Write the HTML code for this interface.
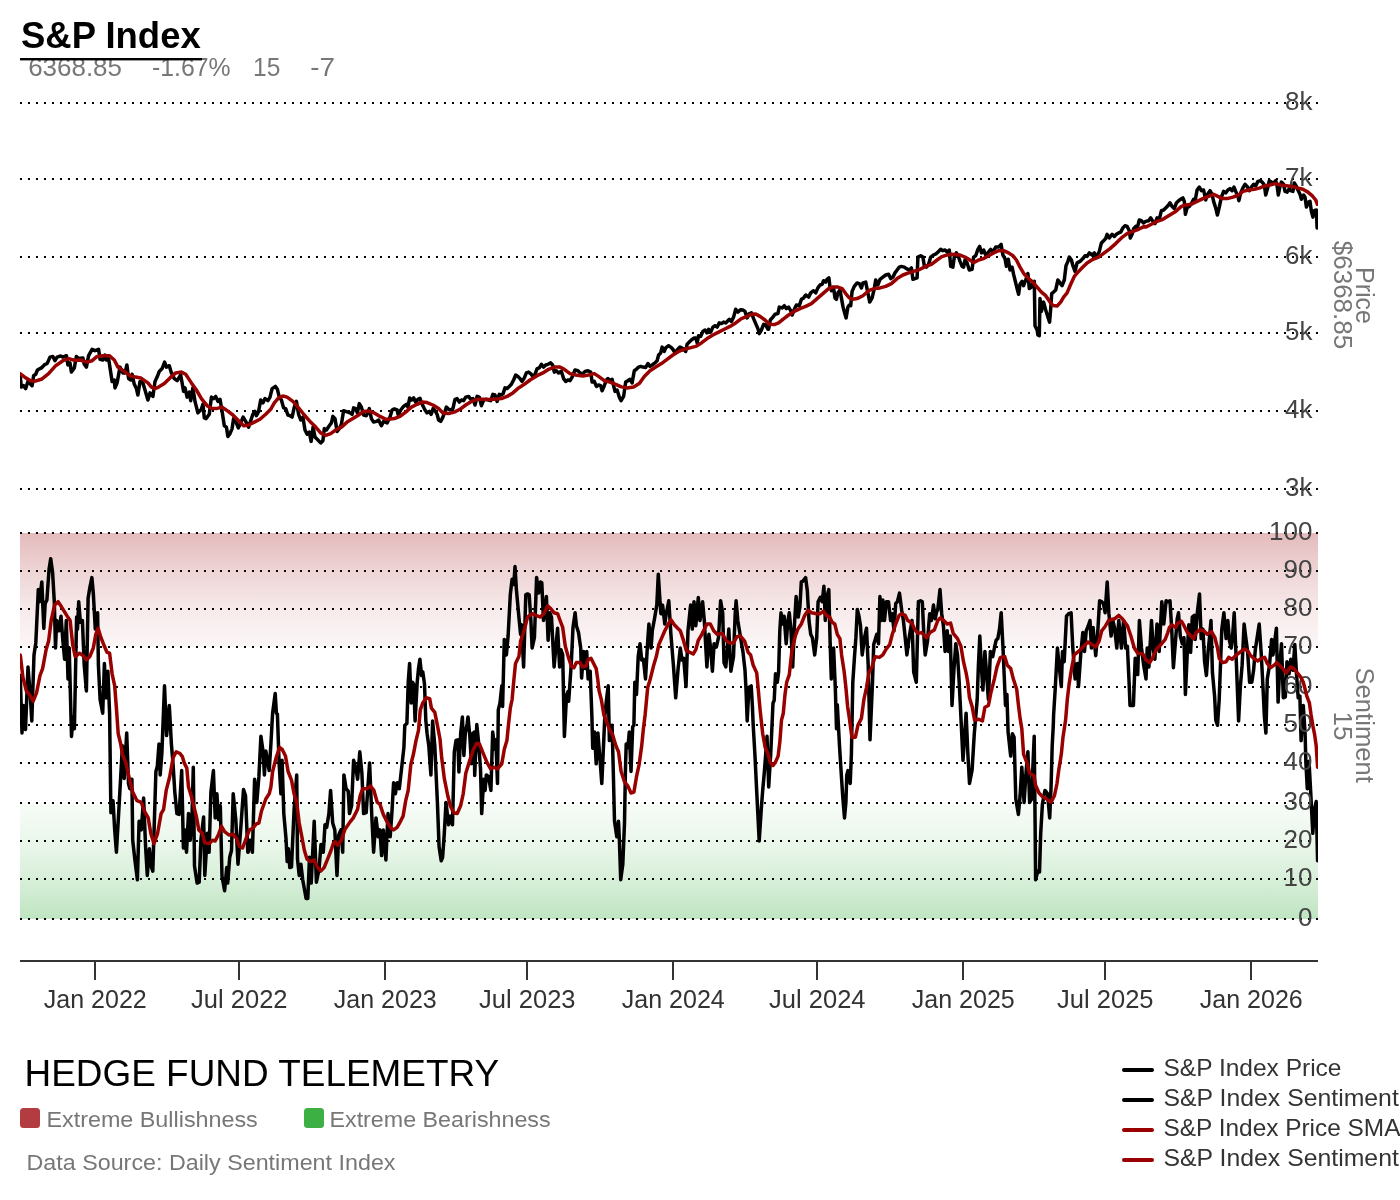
<!DOCTYPE html>
<html lang="en"><head><meta charset="utf-8"><title>S&amp;P Index</title>
<style>
html,body{margin:0;padding:0;background:#fff;}
body{width:1400px;height:1200px;overflow:hidden;font-family:"Liberation Sans", Arial, Helvetica, sans-serif;}
svg{display:block;will-change:transform;}
text{font-family:"Liberation Sans", Arial, Helvetica, sans-serif;}
.g{stroke:#000;stroke-width:2;stroke-dasharray:2 6;shape-rendering:crispEdges;fill:none;}
.tk{font-size:26px;fill:#444;text-anchor:end;}
.xl{font-size:26px;fill:#333;text-anchor:middle;}
.sub{font-size:26px;fill:#777;}
.rot{font-size:26px;fill:#777;text-anchor:middle;}
.ln{fill:none;stroke-width:3.5;stroke-linejoin:round;stroke-linecap:round;}
.lg{font-size:24px;fill:#333;}
.ft{font-size:22px;fill:#777;}
</style></head><body>
<svg width="1400" height="1200" viewBox="0 0 1400 1200">
<defs>
<linearGradient id="gr" x1="0" y1="0" x2="0" y2="1"><stop offset="0" stop-color="#b23c40" stop-opacity="0.35"/><stop offset="0.333" stop-color="#b23c40" stop-opacity="0.22"/><stop offset="0.667" stop-color="#b23c40" stop-opacity="0.108"/><stop offset="1" stop-color="#b23c40" stop-opacity="0.045"/></linearGradient>
<linearGradient id="gg" x1="0" y1="0" x2="0" y2="1"><stop offset="0" stop-color="#3cb043" stop-opacity="0.04"/><stop offset="0.333" stop-color="#3cb043" stop-opacity="0.105"/><stop offset="0.667" stop-color="#3cb043" stop-opacity="0.205"/><stop offset="1" stop-color="#3cb043" stop-opacity="0.33"/></linearGradient>
<clipPath id="cp"><rect x="20" y="90" width="1298" height="860"/></clipPath>
</defs>
<rect width="1400" height="1200" fill="#fff"/>

<text x="21" y="47.6" font-size="36" font-weight="bold" fill="#000" textLength="179.7" lengthAdjust="spacingAndGlyphs">S&amp;P Index</text>
<text x="28.2" y="75.7" class="sub" textLength="93.8" lengthAdjust="spacingAndGlyphs">6368.85</text>
<text x="152" y="75.7" class="sub" textLength="78.5" lengthAdjust="spacingAndGlyphs">-1.67%</text>
<text x="253" y="75.7" class="sub" textLength="27.3" lengthAdjust="spacingAndGlyphs">15</text>
<text x="310.3" y="75.7" class="sub" textLength="24.7" lengthAdjust="spacingAndGlyphs">-7</text>
<rect x="20" y="58" width="182" height="2.4" fill="#000"/>
<rect x="20" y="533" width="1298" height="114" fill="url(#gr)"/>
<rect x="20" y="803" width="1298" height="116" fill="url(#gg)"/>
<line class="g" x1="20" y1="103" x2="1318" y2="103"/>
<line class="g" x1="20" y1="179" x2="1318" y2="179"/>
<line class="g" x1="20" y1="257" x2="1318" y2="257"/>
<line class="g" x1="20" y1="333" x2="1318" y2="333"/>
<line class="g" x1="20" y1="411" x2="1318" y2="411"/>
<line class="g" x1="20" y1="489" x2="1318" y2="489"/>
<line class="g" x1="20" y1="533" x2="1318" y2="533"/>
<line class="g" x1="20" y1="571" x2="1318" y2="571"/>
<line class="g" x1="20" y1="609" x2="1318" y2="609"/>
<line class="g" x1="20" y1="647" x2="1318" y2="647"/>
<line class="g" x1="20" y1="687" x2="1318" y2="687"/>
<line class="g" x1="20" y1="725" x2="1318" y2="725"/>
<line class="g" x1="20" y1="763" x2="1318" y2="763"/>
<line class="g" x1="20" y1="803" x2="1318" y2="803"/>
<line class="g" x1="20" y1="841" x2="1318" y2="841"/>
<line class="g" x1="20" y1="879" x2="1318" y2="879"/>
<line class="g" x1="20" y1="919" x2="1318" y2="919"/>
<g clip-path="url(#cp)">
<polyline class="ln" stroke="#000" points="20,374.3 21.4,387.1 23.6,385.7 25.7,388.6 27.9,381.4 32.1,385.7 33.6,375.7 35.7,374.3 37.4,370 41.4,367.9 45,364.3 47.1,363.6 50,357.1 52.9,356.4 55,360.7 57.1,357.1 60.7,356 62.9,357.1 66.4,355.7 67.9,365 70,362.9 71.4,372.1 74.3,367.9 76.4,356.4 78.6,358.6 82.9,357.9 84.3,364.3 86.4,367.1 88.6,355.7 92.1,349.3 95,350.7 98.6,349.3 100,359.3 102.9,360 105,355 106.4,360 108.6,358.6 112.1,381.4 114.3,380 115,387.9 117.1,382.9 120,367.1 122.9,372.9 125,372.9 126.9,365 128.6,378.6 130.7,380 132.1,374.3 134.3,384.3 136.4,388.6 137.9,395 140,381.4 142.9,382.9 145,390 147.9,400 150,392.9 152.9,396.4 155,381.4 157.1,377.1 159.3,371.4 162.1,368.6 164.6,362.1 166.4,367.1 169.3,365.7 171.4,372.9 174.3,378.6 177.1,380.7 180.7,375 183.6,391.4 185,387.9 187.1,397.1 189.3,392.1 190.7,400.7 192.9,387.9 195,401.4 197.9,412.9 201.4,409.3 202.9,404.3 204.3,417.9 206,418.6 209.3,414.3 211.4,397.1 213.6,398.6 215.7,396.4 217.9,401.4 220,399.3 222.1,411.4 224.3,425.7 226.4,427.1 227.9,436.4 230,433.6 232.1,428.6 233.6,418.6 235.7,421.4 238.3,427.9 240.7,422.9 243.1,417.1 245.7,421.4 248.6,427.1 250.7,420.7 252.9,414.3 255,411.4 256.4,415.7 258.6,411.4 260.7,400 262.9,402.9 265,398.6 267.9,400.7 270,397.1 272.1,388.6 275.4,386.4 277.4,389.3 279.3,397.1 281.4,400 283.6,407.9 285.7,408.6 287.9,415 290,415.7 292.1,417.1 294.3,407.1 296.4,401.4 298.6,414.3 300.7,420 302.9,417.1 305,430 307.1,434.3 309.3,432.1 311.1,441.4 313.1,427.1 315,437.1 317.9,440 320.7,442.9 322.9,440.7 324.3,428.6 326.4,430 329.3,425.7 331.4,422.9 332.9,416.4 335,418.6 337.1,431.4 339.3,428.6 341.4,424.3 343.6,410.7 345.7,411.4 347.9,412.1 350,412.9 352.1,414.3 353.6,407.9 355.7,408.6 357.4,412.9 359.3,403.6 361.4,407.1 363.6,415 366.4,415.7 369.3,408.6 371.4,418.6 373.6,422.1 376.4,421.4 378.6,420 381.4,425.7 383.6,421.4 387.1,422.9 390,417.1 392.1,410 394.3,408.9 397.1,410 398.3,415 400.7,410 403.6,406.4 406.4,404.3 407.9,407.1 409.7,397.9 411.7,400 413.6,397.9 415.7,402.1 417.9,399.3 420,398.3 421.4,402.9 422.9,405.7 425,410 427.1,412.9 429.3,411.4 431.1,414.3 433.1,408.6 435,410.7 437.1,414.3 438.6,420 440.7,421.4 442.9,417.1 445,411.4 446.4,407.1 448.6,409.3 450.7,410 452.9,408.6 455,399.3 457.1,398.6 459.3,402.1 461.4,400 463.6,400.7 465.7,397.1 468.6,396.4 470.7,399.3 472.9,398.6 475,405 477.1,396.4 479.3,397.1 481.4,405.7 483.6,400 485.7,399.3 488.6,400 490.7,400.7 492.9,394.3 495,395 497.1,401.4 499.3,394.3 501.4,395 503.1,393.6 505,387.9 507.1,388.6 509.3,386.4 511.4,384.3 513.6,380 515.7,375 517.9,376.4 520,378.6 522.1,381.4 524.3,377.9 526.4,372.9 528.6,372.1 530.7,373.6 532.9,376.4 535,374.3 537.1,368.6 539.3,367.9 541.4,364.3 543.6,367.1 545.7,365 547.9,364.3 550.7,362.9 552.6,365 554.3,372.1 556.4,370.7 558.6,372.9 561.4,371.4 563.6,378.6 565.7,381.4 567.9,380 570,380.7 572.1,377.1 575,370 577.9,370.7 580,372.9 582.9,373.6 585,371.4 587.9,370.7 590.7,372.1 592.1,382.1 594.3,381.4 596.4,386.4 598.6,385 600.7,385.7 602.1,390.7 604.3,385.7 606.4,380 607.9,378.6 610,380.7 612.1,379.3 613.6,385.7 615,391.4 617.1,390 619.3,397.1 621.1,400.7 623.6,396.4 625.7,382.1 627.9,380.7 630,379.3 632.1,382.9 634.3,370.7 636.4,369.3 638.6,367.1 640.7,366.4 642.9,367.1 645.7,367.4 647.9,363.6 650,366.4 652.1,365 655,362.9 657.1,360.7 658.6,355 660.7,352.9 662.1,347.1 664.3,351.4 665.7,347.9 668.6,345.7 670.7,347.1 672.9,349.3 675,352.9 677.1,350 680,347.1 682.9,348.6 685.7,351.4 687.1,344.3 689.3,342.1 691.4,340 694.3,337.9 695.7,337.9 697.1,342.9 698.6,335.7 700.7,336.4 702.9,331.4 705,330 706.9,332.9 708.6,329.3 710.7,332.1 712.9,327.1 715,325.7 717.1,327.1 719.3,322.9 721.4,323.6 723.6,322.1 725.7,322.9 727.9,320.7 729.3,319.3 731.4,321.4 733.6,317.1 735.7,309.3 737.9,312.1 740.7,309.7 742.9,310 745,311.4 747.1,317.9 749.3,313.6 751.4,312.9 753.6,318.6 755.7,323.6 757.9,328.6 759.3,333.6 761.4,330 763.6,324.3 765.7,325 767.9,329.3 768.6,329.3 770.3,320 772.9,317.1 775,314.3 777.9,313.6 779.3,307.1 782.1,307.9 784.3,305.7 786.4,308.6 788.6,307.1 790.7,310.7 792.1,315 794.3,309.3 796.4,305 799.3,305.7 801.4,299.3 803.6,297.9 805.7,295 808.6,297.1 810.7,292.9 813.6,290.7 815.7,292.9 817.9,287.9 820,285 822.1,284.3 823.6,280.7 825.7,282.1 827.1,279.3 828.9,277.9 830,287.1 831.4,290.7 833.6,287.9 835,297.9 836.4,299.3 837.9,292.9 840,290 841.4,297.9 842.9,306.4 845,314.3 846.1,317.9 847.9,307.1 849.3,305 850.7,305.7 852.1,291.4 854.3,286.4 857.1,282.9 859.3,283.6 861.4,287.9 862.9,282.9 865.7,282.1 867.9,292.9 869.7,302.1 872.1,297.9 874.3,288.6 875.7,280 877.9,285 880,279.3 882.9,277.1 885.7,275 888.6,274.3 890.7,278.6 892.9,277.1 895,272.9 897.1,270 899.3,267.1 901.4,266.4 904.3,267.1 906.4,268.6 909.3,270 911.4,267.9 912.9,279.3 915,278.6 917.1,277.9 917.9,257.1 920.7,255.7 922.9,257.1 924.3,265.7 926.4,267.1 928.6,264.3 930.7,257.1 933.6,255 936.4,253.6 938.6,251.4 940.7,249.3 942.9,250.7 945,250 947.1,252.1 949.3,250 950.7,266.4 952.9,267.1 954.3,257.1 956.4,252.9 957.9,255 960,261.4 962.1,266.4 963.6,267.1 965,260 967.1,262.9 969.3,270 972.1,269.3 973.6,257.1 975.7,255.7 977.9,249.3 979.7,246.4 981.4,252.9 983.6,250 985.7,255 987.9,252.9 990.7,249.3 992.9,252.1 995.7,247.1 998.6,247.1 1001.1,244.3 1002.9,255 1005,258.6 1006.4,266.4 1008.3,259.3 1010,270 1012.1,267.1 1013.6,274.3 1015,280 1017.1,288.6 1018.6,294.3 1020,284.3 1022.1,281.4 1023.6,285.7 1025.7,280 1027.9,273.6 1029.3,288.6 1031.4,287.1 1032.9,282.1 1034.3,281.4 1035,325.7 1037.1,330 1037.9,335 1039.3,335.7 1040,298.6 1041.4,311.4 1043.6,302.1 1045.7,310 1047.9,317.1 1049.6,322.1 1050.7,308.6 1051.7,293.6 1053.6,292.1 1055.7,290 1057.9,280 1060,282.9 1062.1,285.7 1064.3,280 1066,265.7 1067.9,261.4 1069.3,257.1 1071.4,260 1072.9,265.7 1075,271.4 1077.1,262.9 1080,261.4 1082.9,258.6 1085,255.7 1087.1,256.4 1089.3,252.9 1092.1,255 1094.3,252.9 1095.7,256.4 1097.9,254.3 1099.3,251.4 1101.4,242.9 1103.6,240.7 1105.7,238.6 1107.1,234.3 1109.3,237.9 1112.1,234.3 1114.3,236.4 1116.4,234.3 1118.6,232.9 1120.7,232.1 1122.9,227.9 1125,225.7 1127.1,226.4 1129.3,230.7 1130.3,237.9 1132.1,234.3 1133.6,228.6 1135.7,226.4 1137.1,228.6 1139.3,220 1141.4,220.7 1143.6,222.9 1145.7,221.4 1148.6,220.7 1150.7,217.9 1152.9,221.4 1155,223.6 1157.1,217.9 1159.3,219.3 1161.4,210.7 1163.6,210 1165.7,207.9 1167.9,205.7 1170,202.9 1172.1,206.4 1174.3,208.6 1176.4,202.9 1178.6,200.7 1180.7,199.3 1182.9,197.9 1184.3,201.4 1185.4,214.3 1187.1,207.9 1189.3,206.4 1191.4,203.6 1193.6,199.3 1195,201.4 1197.1,190 1199.3,187.1 1201.4,190.7 1203.6,190 1205.7,200 1207.1,195 1210,190.7 1212.1,194.3 1213.6,201.4 1215.7,207.9 1217.4,215 1219.3,207.1 1221.4,197.1 1223.6,191.4 1225.7,192.9 1227.9,190 1230,188.6 1232.1,190.7 1234,187.1 1235.7,191.4 1237.9,196.4 1238.9,200.7 1240.7,192.9 1242.9,187.9 1245,184.3 1247.1,186.4 1249.3,190.7 1251.4,187.1 1253.6,184.3 1255.7,185.7 1257.9,181.4 1260.7,180.7 1262.9,182.9 1264.3,185 1265.7,195 1267.9,187.1 1269.3,180.7 1271.4,182.1 1273.6,182.9 1275.7,180.7 1277.1,185.7 1278.3,195 1280,186.4 1281.4,182.1 1283.6,184.3 1285,191.4 1287.1,192.1 1289.3,188.6 1290.7,190.7 1292.9,191.4 1294.3,182.9 1296.4,186.4 1297.9,190 1300,194.3 1301.4,199.3 1303.6,195 1305,197.1 1306.4,207.1 1308.6,202.1 1310,201.4 1311.4,211.4 1312.9,217.1 1314.3,210.7 1316.4,210 1317.1,227.9"/>
<polyline class="ln" stroke="#000" points="20,675.5 20.3,675.5 22,733 23.4,705.5 25.5,729.5 28,666.9 30.3,696.1 31.8,721 34,654.9 35.8,642.9 38.3,589.6 39.5,601.7 41.8,581.9 43.8,628.3 45.2,603.4 46.9,599.9 49.1,569 50.7,558.7 52.6,572.5 54.3,601.7 55.5,648 56.7,620.5 58.9,630.8 61,616.2 62.9,641.1 64.6,659.2 66.3,620.5 68,678.9 69.2,648 71.5,736.4 73.2,716.7 74.4,728.7 76.6,617.1 77.5,629.1 78.7,601.7 80.4,622.3 82.4,620.5 84.2,665.2 86.4,690.9 88.1,598.2 89.8,587.9 91.9,577.6 93.3,593.1 95.3,629.1 97.6,612.8 98.4,665.2 100.1,699.5 102.7,713.2 104.4,663.5 106.1,697.8 107.9,671.2 109.6,713.2 110.9,812.7 113,800.7 114.7,829.9 116.4,852.2 118.5,816.1 120.7,776.7 122.4,745.8 124.2,778.4 126.7,732.9 128.5,783.5 129.8,788.7 131.9,779.2 132.7,840.2 135,860.8 137.4,879.7 139.1,821.3 141.3,829.9 143.6,798.1 145.6,847 147.3,875.4 149.4,848.8 151.1,865.9 152.8,871.1 154.2,826.4 155.9,771.5 157.3,766.4 159,744 160.2,774.9 161.9,752.6 164.5,685.8 166.6,735.6 169.3,705.5 171.4,744.1 173.1,764.6 174.8,792.1 176.9,813.6 179.1,814.4 181.7,770.6 183.4,847.9 185.1,829.9 186.5,852.2 188.5,813.6 190.3,840.2 192,816.1 193.3,767.2 194.5,865.9 197.1,883.1 199.2,882.2 200.9,840.2 203.6,817 204.8,875.4 207.4,833.3 209.1,852.2 210.9,792.1 213.4,770.6 215.2,817.9 216.9,793.8 218.6,819.6 220.3,805.8 222,876.2 224.6,890.8 226.7,867.6 227.7,883.1 229.7,857.3 231.5,850.5 233.2,793.8 235.8,819.6 238,864.2 240.9,826.4 243.5,789.5 245.5,795.5 247.8,852.2 248.2,852.2 250.3,840.2 252.4,852.2 254.6,779.2 256.8,802.4 258.9,776.7 260.9,736.3 263.2,752.6 264.4,774.9 265.8,750.9 267.5,761.2 269.2,770.6 270.9,744 272.6,713.2 275.2,693.5 276.4,713.2 277.4,714.1 279.1,762.9 280.9,793.8 282.1,760.3 283.8,813.6 286,838.5 287.2,861.6 288.4,848.8 289.8,867.6 291.5,866.8 294.1,809.3 296.7,774.9 297.5,859.1 299.2,875.4 300.9,864.2 302.7,879.7 304.9,891.7 306.1,898.5 307.8,898.5 309.5,857.3 311.2,883.1 314.2,821.3 316.4,882.2 319,869.4 321,844.5 323.3,852.2 325,824.7 326.7,827.3 328.9,813.6 330.6,790.4 332.7,823 334.8,829.9 337,875.4 338.7,835 340.9,829.9 342.7,852.2 343.9,774.9 346.1,788.7 348.2,791.2 349.5,813.6 351.6,805.8 353.6,760.3 355.9,768.1 357.6,779.2 359.8,751.8 361.9,773.2 363.6,813.6 366.2,812.7 367.9,787 369.6,762.9 371.8,816.1 373.6,852.2 376,817.9 378.2,836.7 379.9,829.9 381.6,855.6 383.3,829.9 385.9,859.9 388,813.6 390.2,836.7 391.9,812.7 393.6,782.7 395.4,793.8 397.1,782.7 399.3,788.7 402.2,762.9 403.9,747.5 404.8,725.3 406.9,723.5 408.2,682.3 409.6,663.5 411.2,702.9 412.5,682.3 413.7,684.1 415.1,721 417.2,682.3 418.5,668.6 419.9,659.2 421.6,675.5 422.8,672 424.5,684.1 425.8,720.1 427.1,733.7 428.8,745.8 430.9,774.9 432.6,721 434.8,745.8 437.4,802.4 439.1,847 441.2,860.8 442.6,857.3 444.3,833.3 446,802.4 448.6,824.7 450.3,816.1 452.5,824.7 454.3,752 456,740.4 457.8,739.8 458.9,771.9 460.7,733.3 462.4,717 463.9,755.5 465.3,733.3 467.1,724 468,717 469.8,735.7 471.4,763.7 472.9,733.3 474.1,732.2 474.7,775.4 476.8,724.6 478.4,740.4 480.5,768.4 481.7,813.6 483.7,779.2 485.1,790.4 486.3,774.9 488.5,776.7 490.9,790.4 492.7,732 494.9,749.2 495.8,739.7 497.5,783.5 498.3,709.8 500,702.9 501.8,685.8 502.6,706.4 504.3,639.4 506.4,654.9 508.1,636 510.3,594.8 512.1,579.3 513.8,584.5 515,566.5 516.4,589.6 518.9,617.1 520.6,634.3 521.5,624.8 523.6,666.9 525.8,594.8 527.5,593.9 529.2,594.8 530.9,620.5 532.1,648 534.4,637.7 536.6,577.6 538.7,593.1 540.4,581.9 541.8,582.8 543.5,620.5 546.4,596.5 548.1,640.3 549.8,612.8 551.5,617.1 554.1,666.9 555.8,648 557.6,628.3 559.6,666.9 561,649.7 562.7,654.9 564.4,736.4 566.5,696.1 567.9,691.8 568.7,701.2 571.3,663.5 573,627.4 575.1,612.8 576.4,625.7 578.5,632.6 580.7,648 581.6,678 583.6,651.4 585.4,668.6 586.7,651.4 588.1,678.9 590.2,671.2 591.9,716.7 592.7,748.3 594.5,732 596.2,763.8 597.9,732.9 599.6,754.3 601.8,783.5 603.9,737.2 604.8,716.7 606.5,699.5 608.2,685.8 609.4,740.6 612.1,725.2 613.3,771.5 614.5,821.3 616.8,836.7 618.5,821.3 619.4,840.2 620.7,879.7 622.8,864.2 624.5,823 625.4,771.5 626.2,744 627.9,747.5 629.3,732 631,771.5 632.7,726.9 633.9,725.3 634.8,682.3 636.5,694.4 638.2,656.6 640,643.7 641.7,660 643.4,659.2 645.5,678.9 647.7,641.1 648.9,624 651.1,648 652.3,630.8 654.5,618.8 656.8,605.1 658.3,574.2 659.7,596.5 660.9,613.7 662.6,605.1 664.8,624 666.1,614.5 668.8,600.8 670.9,634.3 673.4,665.2 675.7,697.8 678.1,668.6 680.3,648 682,660 683.7,658.3 686,686.6 688,630.8 690.6,605.1 692.3,629.1 694,601.7 695.8,625.7 698.3,597.4 700,620.5 702.6,601.7 704.3,620.5 706.9,666.9 708.9,634.3 710.6,648 712.4,671.2 714.1,643.7 716.3,647.1 718.5,637.7 720.6,600.8 722.7,612.8 724,662.6 725.8,666.9 727.5,648 728.8,629.1 730.9,671.2 733.5,656.6 735.2,613.7 736.1,600.8 737.8,620.5 740.3,636 742.9,651.4 745,670.3 746,689.2 747.2,721 748.9,687.5 751.2,685.8 752.4,706.4 753.2,725.3 754.9,754.3 757,797.3 759.2,841 761.5,805.8 762.7,790.4 764.4,771.5 767,736.3 768.7,787 770.7,754.3 773,702.9 774.2,700.4 775.5,673.8 777.3,682.3 778.6,672 779.8,630.8 781,612.8 782.7,624 784.1,616.2 786.2,643.7 787.9,620.5 789.3,612.8 791,630.8 792.7,666.9 794.4,625.7 796.1,596.5 798.2,617.1 799.9,606.8 801.3,581.9 803,581.1 805.6,577.6 807.3,590.5 809,620.5 810.7,634.3 812.4,637.7 814.7,654.9 816.7,637.7 818.1,601.7 820.2,597.4 822.2,601.7 823.9,586.2 825.3,620.5 827,596.5 828.8,589.6 830.1,641.1 831.3,678.9 833.6,648 835.3,687.5 836.5,728.7 837.3,704.7 839.4,744 841.1,771.5 842.8,797.3 844.5,817.9 845.9,802.4 846.8,774.9 848,770.6 850.2,783.5 851.4,754.3 852.8,682.3 854.5,656.6 855.9,637.7 857.3,609.4 858.8,615.4 860.5,625.7 862.2,654.9 864.5,637.7 866.5,628.3 868.2,665.2 870,739.8 872.5,682.3 873.7,644.6 876.8,634.3 878.5,643.7 879.9,596.5 881.6,620.5 882.8,599.9 884.5,620.5 886.3,601.7 888.5,601.7 890.6,620.5 892.3,613.7 894,630.8 895.7,603.4 897.4,601.7 899.5,593.1 901.7,610.2 903.4,620.5 905.2,637.7 906.9,654.9 909.1,637.7 912,620.5 913.7,672 916.3,682.3 918.4,601.7 920.6,600.8 922.3,601.7 924,637.7 925.2,654.9 927.5,641.1 929.7,613.7 931.4,620.5 933.5,605.1 935.2,618.8 936.9,610.2 937.7,610.2 940,589.6 941.7,613.7 943.4,625.7 945.1,651.4 947.2,630.8 948.5,651.4 950.3,636 952,705.5 954,668.6 955.8,643.7 957.5,654.9 959.2,682.3 960.9,716.7 963,760.3 966.1,713.2 967.8,752.6 969.5,783.5 972.1,769.8 974.3,733.7 977.2,699.5 978.4,665.2 979.8,636 981.5,668.6 982.9,690.1 984.9,651.4 986.7,675.5 988.4,699.5 990.4,651.4 992.7,656.6 994.4,648 996.1,640.3 997.8,638.6 999.5,629.1 1001.2,612.8 1003,648 1004.2,675.5 1005.5,705.5 1006.9,694.4 1008.1,732.1 1010.7,756.1 1012.4,733.7 1014.1,737.2 1015.8,799 1018.4,814.4 1020.1,795.5 1021.8,767.2 1024.1,802.4 1026.1,771.5 1027.9,751.8 1029.6,802.4 1031.6,799 1032.7,771.5 1034.2,736.3 1035.1,823 1035.6,879.7 1037.8,871.1 1039.5,871.9 1040.7,833.3 1042.4,804.1 1045,790.4 1047.6,793.8 1049.7,817.9 1051,788.7 1052.2,745.8 1053.3,725.2 1053.6,715 1055.3,687.5 1057.4,648 1059.1,665.2 1061.3,686.6 1062.5,651.4 1064.2,661.7 1066.5,616.2 1068.7,613.7 1071.1,612.8 1072.8,648 1075.1,678.9 1077.3,663.5 1078.5,686.6 1080.7,654.9 1082.8,632.6 1084.5,651.4 1086.2,630.8 1088.3,625.7 1090,620.5 1091.4,648 1093.1,627.4 1095.7,655.7 1097.4,637.7 1099.6,600.8 1101.7,601.7 1103.4,603.4 1105.1,612.8 1107.2,581.9 1108.9,613.7 1111.1,636 1112.8,620.5 1114.5,627.4 1116.8,648 1118.8,620.5 1121.4,648 1123.6,620.5 1125.7,648 1127.4,646.3 1129.1,682.3 1130,705.5 1133.4,705.5 1135.2,658.3 1137.7,674.6 1139.4,620.5 1141.5,648 1143.7,665.2 1146,678.9 1147.2,648 1148.9,666.9 1151.5,620.5 1153.2,648 1154.9,659.2 1157,624 1159.2,651.4 1161.8,601.7 1163.8,624 1166.1,600.8 1167.8,601.7 1170,600.8 1171.7,629.1 1173.4,667.7 1175.5,641.1 1177.2,618.8 1178.5,612.8 1180.3,636 1182.3,643.7 1184,637.7 1185.4,694.4 1187.5,648 1188.8,624.8 1190.6,652.3 1192.3,617.1 1194.3,615.4 1195.2,639.4 1197.4,612 1199.5,593.9 1201.2,638.6 1202.9,629.1 1204.6,661.7 1206.4,675.5 1208.1,651.4 1209.4,638.6 1211,620.5 1212.4,672 1214.6,696.1 1215.8,720.1 1217.5,725.3 1219.2,699.5 1221.8,629.1 1223.9,612.8 1226.1,638.6 1227.8,620.5 1229.5,641.1 1231.2,648 1232.4,638.6 1234.2,612.8 1236.4,663.5 1238.6,721 1240.3,687.5 1242.1,665.2 1244.1,624 1245.8,637.7 1247.6,651.4 1249.6,682.3 1251.8,682.3 1253.6,670.3 1255.3,649.7 1257,638.6 1259.2,624 1261.3,654.9 1263,687.5 1264.4,716.7 1265.9,733 1267.3,678.9 1269.5,665.2 1271.6,639.4 1273,654.9 1274.7,641.1 1276.4,628.3 1278.1,702.1 1279.8,665.2 1281.5,643.7 1283.3,697.8 1285.3,696.9 1287,661.7 1289.1,673.8 1290.8,659.2 1293,670.3 1294.8,644.6 1296.5,673.8 1298.2,697.8 1299.9,696.1 1301.1,740.7 1303.3,705.5 1305.1,733.8 1305.9,762.9 1307.3,788.7 1309,761.2 1310.7,792.1 1312.8,833.3 1314.5,809.3 1316.2,801.5 1317.6,860.8"/>
</g>
<text class="tk" x="1312.5" y="110">8k</text>
<text class="tk" x="1312.5" y="186">7k</text>
<text class="tk" x="1312.5" y="264">6k</text>
<text class="tk" x="1312.5" y="340">5k</text>
<text class="tk" x="1312.5" y="418">4k</text>
<text class="tk" x="1312.5" y="496">3k</text>
<text class="tk" x="1312.5" y="540">100</text>
<text class="tk" x="1312.5" y="578">90</text>
<text class="tk" x="1312.5" y="616">80</text>
<text class="tk" x="1312.5" y="654">70</text>
<text class="tk" x="1312.5" y="694">60</text>
<text class="tk" x="1312.5" y="732">50</text>
<text class="tk" x="1312.5" y="770">40</text>
<text class="tk" x="1312.5" y="810">30</text>
<text class="tk" x="1312.5" y="848">20</text>
<text class="tk" x="1312.5" y="886">10</text>
<text class="tk" x="1312.5" y="926">0</text>
<g clip-path="url(#cp)">
<polyline class="ln" stroke="#990000" points="20,373.6 25.7,377.9 30.7,380.7 34.3,381.4 41.4,379.3 48.6,373.6 55.7,365.7 62.9,360.7 68.6,358.6 74.3,360.3 80,360 87.1,362.1 92.1,360.7 97.1,356.4 102.9,355.7 109.3,355.7 114.3,360 117.9,367.1 124.3,371.4 130,375.7 135.7,377.1 140.7,377.9 147.9,382.9 151.4,387.1 155,388.6 158.6,387.1 164.3,383.6 170,377.9 175.7,372.9 181.4,372.1 185.7,374.3 191.4,382.9 196.4,390 201.4,398.6 207.1,405.7 211.4,408.3 216.4,408.6 222.1,407.1 227.1,410.7 232.9,415 238.6,420.7 243.6,425.7 248.6,425 254.3,422.1 260,419.3 265.7,414.3 270.7,409.3 274.3,402.9 278.6,397.9 282.9,396 287.1,397.1 292.9,401.4 298.6,407.9 304.3,415 310,421.4 315.7,427.1 320.7,432.9 325.7,435.4 330.7,433.6 335.7,430 341.4,427.1 347.1,422.1 352.9,418.6 358.6,415 363.6,411.4 368.6,411.1 374.3,412.9 380,416.4 385,418.9 388.6,419.3 394.3,418.6 400,416.4 405.7,412.1 411.4,407.1 417.1,404.3 422.1,402.1 427.1,402.6 432.9,405 438.6,408.6 442.9,412.9 448.6,413.6 454.3,412.1 460,409.3 465.7,405 471.4,401.4 477.1,399.3 482.9,399.3 488.6,399.6 494.3,399.3 501.4,398.6 507.1,396.4 512.9,392.9 518.6,387.9 524.3,384.3 530,380 537.1,375.7 542.9,372.9 548.6,369.3 554.3,367.1 560,367.1 564.3,369.3 570,373.6 575.7,375 582.9,376 588.6,375 594.3,373.6 598.6,376.4 604.3,380.7 610,382.1 615.7,384.3 621.4,386.9 627.1,387.9 633.6,387.1 639.3,383.6 644.3,376.4 650,370.7 655.7,367.1 661.4,363.6 667.1,359.3 672.9,355 678.6,351.4 684.3,349.3 690,347.9 695.7,346.4 701.4,342.9 707.1,338.6 712.9,335 718.6,332.1 724.3,329.3 730,326.4 735.7,322.9 741.4,318.6 747.1,316.4 751.4,314.3 755.7,314 760,316.4 765,320 769.3,324.3 774.3,324.6 778.6,322.9 782.9,319.3 788.6,315 794.3,311.4 800,308.6 805.7,306.4 811.4,303.6 817.1,298.6 822.9,293.6 828.6,288.6 832.9,286.9 837.9,287.1 842.1,288.6 845.7,293.6 849.3,297.9 852.9,299.3 857.1,298.6 862.9,295.7 868.6,290.7 874.3,288.6 880,287.9 885.7,286.4 891.4,283.6 897.1,278.6 902.9,275 908.6,272.9 914.3,271.1 920,269.3 925.7,266.4 931.4,264.3 937.1,260 941.4,256.9 945.7,255.4 951.4,254.3 960,255 965,257.1 970,260 973.6,262.6 978.6,260 983.6,258.6 988.6,255.7 993.6,252.9 998.6,250.7 1003.6,250.7 1008.6,252.9 1012.9,255.7 1016.4,260 1020,267.1 1024.3,274.3 1028.6,278.6 1032.9,282.1 1037.1,287.1 1041.4,292.1 1045.7,295.7 1050,302.1 1052.9,305.4 1057.1,306 1060.7,302.1 1063.6,297.1 1067.1,292.9 1070.7,284.3 1074.3,276.4 1078.6,271.4 1082.9,267.1 1087.1,262.9 1092.9,259.3 1098.6,257.1 1104.3,252.9 1110,248.6 1115.7,243.6 1121.4,237.9 1127.1,233.6 1132.9,231.4 1138.6,229.3 1144.3,226.4 1145.7,227.1 1151.4,224.3 1157.1,221.4 1162.9,219.3 1168.6,215.7 1175.7,211.4 1181.4,206.4 1185.7,205 1191.4,204.3 1197.1,201.4 1202.9,198.6 1208.6,196.4 1213.6,194.3 1217.9,196.4 1222.1,198.6 1227.1,198.6 1232.9,197.1 1238.6,195 1242.9,191.4 1248.6,190 1254.3,189.3 1260,187.9 1264.3,186 1270,185 1275,183.6 1280.7,185 1286.4,185.7 1292.1,186.4 1297.1,187.9 1302.9,189.3 1307.9,192.1 1312.1,195.7 1315.7,200 1317.4,204.3"/>
<polyline class="ln" stroke="#990000" points="20,654.9 20.3,654.9 22.9,677.2 26.3,690.9 29.7,695.2 33.2,701.2 36.6,692.6 40,675.5 42.6,668.6 46.1,649.7 48.6,641.1 51.2,620.5 54.6,605.1 58.1,601.7 61.5,606.8 66.7,615.4 70.1,620.5 72.7,644.6 75.2,656.6 79.5,653.2 83,655.7 86.4,660 89.8,656.6 93.3,648 95.8,634.3 98.1,628.3 101,637.7 104.4,646.3 107,652.3 109.6,653.2 112.1,673.8 114.7,685.8 116.4,708.1 118.2,733.7 120.7,744 122.4,754.3 125.9,762.9 128.5,774.9 132.7,792.1 137,800.7 141.3,802.4 144.8,811.8 148.2,817.9 150.8,833.3 153.9,843.6 157.6,833.3 161.1,813.6 163.6,809.3 166.2,790.4 169.7,776.7 173.1,757.8 176.2,751.8 180,753.5 182.5,756.9 184.2,762.9 186.8,768.1 188.5,787 191.1,795.5 193.7,805.8 196.3,816.1 198.8,829.9 202.3,833.3 204.8,842.7 209.1,843.6 212.6,840.2 215.2,841 218.6,834.2 221.5,826.4 224.6,831.6 228.9,835 233.2,834.2 236.6,838.5 239.2,846.2 242.6,847.9 246.1,838.5 249.4,829.9 252.9,828.2 256.3,823.9 258.9,823 261.5,811 265.8,799 269.2,793.8 270.9,787 272.6,771.5 276.1,757.8 279.5,747.5 282.1,749.2 285.5,756.1 288.1,771.5 291.5,780.1 294.1,793.8 296.7,802.4 299.2,823 301.8,836.7 304.4,850.5 307,859.1 310.4,861.6 314.2,859.9 317.3,866.8 320.7,871.1 324.1,867.6 327.6,859.1 331,850.5 333.6,842.7 335.3,841.9 337.9,845.3 341.3,840.2 344.7,829.9 349.9,822.1 353.3,817.9 357.6,809.3 360.2,795.5 362.7,788.7 367,788.7 370.5,786.1 373.9,790.4 377.3,802.4 379.9,804.1 383.3,814.4 387.6,823 391.1,828.2 393.6,829.9 397.1,827.3 400.5,821.3 403.1,816.1 405.7,800.7 408.2,790.4 410.8,764.6 413.4,754.3 416,740.6 418.5,730.4 420.3,709.8 422.8,702.9 426.3,697.8 429.7,698.6 431.4,708.1 434.8,712.4 437.4,725.3 440,739 441.7,757.8 444.3,778.4 447.7,795.5 450.3,805.8 453.7,812.7 457.2,813.6 460.6,805.8 463.2,793.8 465.8,773.2 470,759.5 473.5,749.2 476.9,743.2 479.4,744 482.9,752.6 487.2,762.9 490.6,768.9 494,767.2 497.5,768.9 501.8,763.8 504.3,749.2 506.9,740.6 508.6,723.5 510.3,708.1 512.1,699.5 513.8,680.6 515.5,663.5 518.9,656.6 520.6,641.1 524.1,630.8 527.5,617.1 531.8,613.7 536.1,615.4 540.4,617.1 543.8,613.7 547.6,605.9 550.7,608.5 554.1,612.8 557.6,613.7 560.1,620.5 562.7,627.4 565.3,646.3 568.7,658.3 571.3,666 573.9,667.7 576.4,662.6 579.9,662.6 582.4,666.9 585.9,666 588.5,659.2 591,658.3 593.6,663.5 596.2,668.6 597.9,680.6 599.1,690.9 601.3,699.5 603.9,715 607.3,723.5 609.1,728.6 612.5,734.6 615.9,745.8 618.5,751.8 621.1,771.5 624.5,781.8 627.9,786.1 631,793 633.9,792.1 636.5,776.7 639.1,764.6 641.7,745.8 643.4,728.6 645.1,715 647.7,687.5 650.3,678.9 653.7,665.2 656.3,656.6 658.8,644.6 661.4,638.6 664.8,630.8 668.3,624 670.9,619.7 674.3,624.8 677.7,628.3 680.3,630.8 682.9,638.6 686.3,650.6 689.7,652.3 693.2,654 695.8,649.7 698.3,640.3 701.8,634.3 705.2,627.4 706.9,624 710.3,624 713.7,630.8 717.2,634.3 722.3,633.4 725.8,640.3 729.2,642.9 733.5,642.9 736.9,636.8 740.3,636 744.6,641.1 748.1,652.3 750.6,654.9 753.2,665.2 756.7,672.9 758.4,690.9 760.1,709.8 762.7,733.7 765.2,747.5 767.8,753.5 770.4,762.9 773,765.5 775.5,762.1 778.1,756.1 779.8,742.3 781.5,720.1 783.3,713.2 785,694.4 786.7,682.3 789.3,674.6 791.8,651.4 795.3,636 797.9,629.1 801.3,624 804.7,615.4 808.2,610.2 811.6,612.8 816.7,613.7 820.2,613.7 823.6,611.1 826.2,615.4 829.6,617.1 832.2,622.3 834.8,624 837.3,634.3 839.9,638.6 841.6,654.9 844.2,672 845.9,687.5 847.6,706.4 849.4,718.4 851.9,737.2 855.4,737.2 857.9,725.3 861.4,718.4 863.9,699.5 866.5,687.5 869.1,672 871.7,667.7 875.1,656.6 879.4,657.4 882.8,654.9 886.3,648.9 889.7,644.6 892.3,634.3 895.7,624 899.1,615.4 901.7,613.7 905.2,615.4 907.7,620.5 912,623.1 914.6,629.1 918,633.4 921.5,632.6 926.6,637.7 930,632.6 934.3,630 937.8,620.5 940.3,618 943.7,620.5 947.2,624 950.6,623.1 953.2,633.4 957.5,638.6 960.9,646.3 963.5,661.7 966.1,672.9 967.8,682.3 969.5,697.8 972.1,706.4 974.6,720.1 978.9,719.2 982.4,721 984.9,707.2 988.4,705.5 990.9,692.6 994.4,678.9 997,666.9 1000.4,657.4 1004.7,656.6 1007.3,665.2 1010.7,668.6 1013.3,678.9 1016.7,689.2 1018.4,704.7 1020.1,718.4 1021.8,728.6 1023.6,754.3 1027,762.9 1029.6,773.2 1033.9,775.8 1035.6,785.2 1039,793 1042.4,796.4 1046.7,799 1051,802.4 1054.5,795.5 1057,783.5 1058.8,769.8 1061.3,754.3 1063,737.2 1065.6,720.1 1067.3,699.5 1069.1,684.1 1071.6,668.6 1074.2,654.9 1079.4,650.6 1083.6,646.3 1087.9,642 1092.2,644.6 1095.7,647.1 1099.1,641.1 1101.7,630.8 1105.1,626.5 1108.5,620.5 1114.5,618.8 1118.8,615.4 1122.3,618.8 1127.4,625.7 1130.9,636 1134.3,648 1137.7,653.2 1142.9,654 1146.3,660 1149.7,662.6 1153.2,656.6 1156.6,648.9 1160.9,644.6 1165.2,639.4 1167.8,632.6 1169.4,627.4 1172,624.8 1175.5,627.4 1178,623.1 1181.5,621.4 1184,625.7 1187.5,632.6 1190.9,636 1193.5,638.6 1196.1,632.6 1199.5,630 1203.8,630.8 1207.2,634.3 1211.5,631.7 1214.9,637.7 1217.5,648 1219.2,658.3 1222.7,662.6 1226.1,661.7 1228.7,657.4 1232.1,659.2 1235.5,655.7 1239.8,652.3 1244.1,648.9 1247.6,650.6 1250.1,654.9 1253.6,658.3 1257.9,660.9 1261.3,658.3 1264.7,657.4 1267.3,663.5 1270.7,667.7 1274.2,665.2 1276.7,662.6 1280.2,666 1283.6,669.5 1286.2,672.9 1290.5,666.9 1293.9,668.6 1297.3,672.9 1300.8,677.2 1303.3,682.3 1305.1,689.2 1306.8,696.1 1309.4,702.9 1311.1,715 1312.8,725.3 1314.5,733.8 1316.2,745.8 1317.6,767.2"/>
</g>
<text class="rot" transform="translate(1356,295.5) rotate(90)" textLength="57" lengthAdjust="spacingAndGlyphs">Price</text>
<text class="rot" transform="translate(1334,295) rotate(90)">$6368.85</text>
<text class="rot" transform="translate(1356,725.2) rotate(90)" textLength="115.5" lengthAdjust="spacingAndGlyphs">Sentiment</text>
<text class="rot" transform="translate(1333.5,726) rotate(90)">15</text>
<rect x="20" y="960" width="1298" height="2" fill="#333"/>
<rect x="94" y="961" width="2" height="19" fill="#333"/>
<text class="xl" x="95.3" y="1007.9" textLength="103.0" lengthAdjust="spacingAndGlyphs">Jan 2022</text>
<rect x="238" y="961" width="2" height="19" fill="#333"/>
<text class="xl" x="239.3" y="1007.9" textLength="96.5" lengthAdjust="spacingAndGlyphs">Jul 2022</text>
<rect x="384" y="961" width="2" height="19" fill="#333"/>
<text class="xl" x="385.3" y="1007.9" textLength="103.0" lengthAdjust="spacingAndGlyphs">Jan 2023</text>
<rect x="526" y="961" width="2" height="19" fill="#333"/>
<text class="xl" x="527.3" y="1007.9" textLength="96.5" lengthAdjust="spacingAndGlyphs">Jul 2023</text>
<rect x="672" y="961" width="2" height="19" fill="#333"/>
<text class="xl" x="673.3" y="1007.9" textLength="103.0" lengthAdjust="spacingAndGlyphs">Jan 2024</text>
<rect x="816" y="961" width="2" height="19" fill="#333"/>
<text class="xl" x="817.3" y="1007.9" textLength="96.5" lengthAdjust="spacingAndGlyphs">Jul 2024</text>
<rect x="962" y="961" width="2" height="19" fill="#333"/>
<text class="xl" x="963.3" y="1007.9" textLength="103.0" lengthAdjust="spacingAndGlyphs">Jan 2025</text>
<rect x="1104" y="961" width="2" height="19" fill="#333"/>
<text class="xl" x="1105.3" y="1007.9" textLength="96.5" lengthAdjust="spacingAndGlyphs">Jul 2025</text>
<rect x="1250" y="961" width="2" height="19" fill="#333"/>
<text class="xl" x="1251.3" y="1007.9" textLength="103.0" lengthAdjust="spacingAndGlyphs">Jan 2026</text>
<text x="24.6" y="1086" font-size="36.6" fill="#000" textLength="474.5" lengthAdjust="spacingAndGlyphs">HEDGE FUND TELEMETRY</text>
<rect x="20" y="1108" width="20" height="20" rx="3.5" fill="#b23c40"/>
<text x="46.5" y="1126.8" class="ft" textLength="211.3" lengthAdjust="spacingAndGlyphs">Extreme Bullishness</text>
<rect x="304" y="1108" width="20" height="20" rx="3.5" fill="#3cb043"/>
<text x="329.5" y="1126.8" class="ft" textLength="221.1" lengthAdjust="spacingAndGlyphs">Extreme Bearishness</text>
<text x="26.5" y="1169.6" class="ft" textLength="369.0" lengthAdjust="spacingAndGlyphs">Data Source: Daily Sentiment Index</text>
<line x1="1124" y1="1070" x2="1152" y2="1070" stroke="#000" stroke-width="4" stroke-linecap="round"/>
<text class="lg" x="1163.5" y="1075.6" textLength="178" lengthAdjust="spacingAndGlyphs">S&amp;P Index Price</text>
<line x1="1124" y1="1100" x2="1152" y2="1100" stroke="#000" stroke-width="4" stroke-linecap="round"/>
<text class="lg" x="1163.5" y="1105.6" textLength="235.3" lengthAdjust="spacingAndGlyphs">S&amp;P Index Sentiment</text>
<line x1="1124" y1="1130" x2="1152" y2="1130" stroke="#990000" stroke-width="4" stroke-linecap="round"/>
<text class="lg" x="1163.5" y="1135.6" textLength="237" lengthAdjust="spacingAndGlyphs">S&amp;P Index Price SMA</text>
<line x1="1124" y1="1160" x2="1152" y2="1160" stroke="#990000" stroke-width="4" stroke-linecap="round"/>
<text class="lg" x="1163.5" y="1165.6" textLength="296" lengthAdjust="spacingAndGlyphs">S&amp;P Index Sentiment SMA</text>
</svg></body></html>
